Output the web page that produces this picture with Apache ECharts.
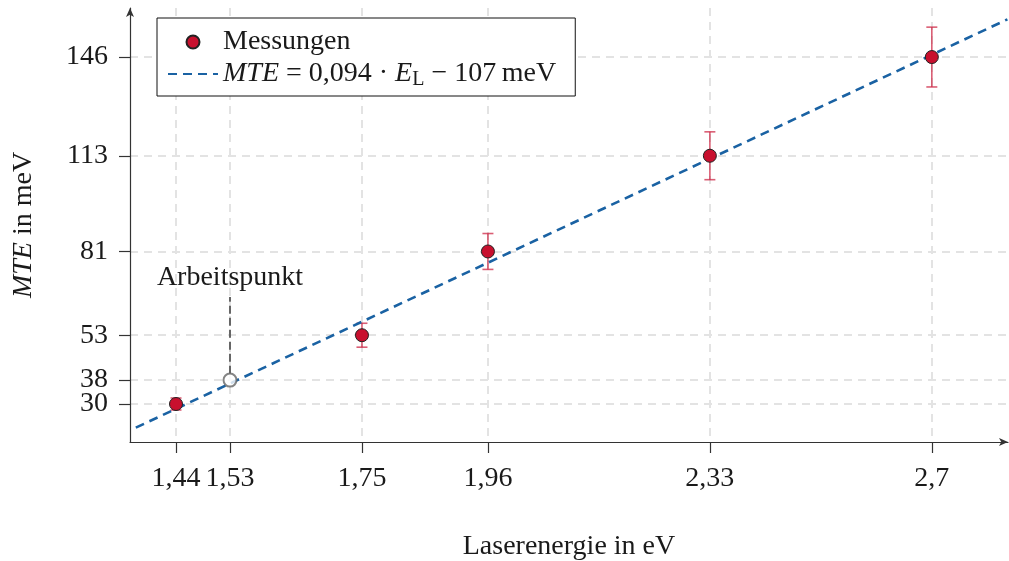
<!DOCTYPE html>
<html>
<head>
<meta charset="utf-8">
<script src="https://cdn.jsdelivr.net/npm/echarts@6/dist/echarts.min.js"></script>
<style>html,body{margin:0;padding:0;background:#fff}#c{width:1009px;height:561px}</style>
</head>
<body>
<div id="c"></div>
<script>
// --- data ---
const energies = [1.44, 1.75, 1.96, 2.33, 2.7];      // eV
const mte = [30, 53, 81, 113, 146];                  // meV
const mteErr = [2, 4, 6, 8, 10];                     // meV
const fitLine = [[1.373, 22.1], [2.826, 158.6]];     // endpoints of fit line
const workPoint = [1.53, 38];
const workMarker = [[1.53, 40.1], [1.53, 65.8]];
const xTicks = [1.44, 1.53, 1.75, 1.96, 2.33, 2.7];
const yTicks = [30, 38, 53, 81, 113, 146];
const yLabelsA = [30, 53, 81, 113, 146];   // labels on main axis
const yLabelsB = [38];                     // label on overlay axis (avoids overlap hiding)

const FONT = 'Liberation Serif';
const TXT = '#1a1a1a';
const AX = '#333';
const GRID = '#e3e3e3';
const RED = '#c8102e';
const ERR = 'rgba(205,40,70,0.75)';
const BLUE = '#1a62a3';
const Y_MIN = 17.3, Y_MAX = 162.4;

const chart = echarts.init(document.getElementById('c'), null, {renderer: 'canvas'});
const fmt = v => String(v).replace('.', ',');
const yLabelStyle = {fontFamily: FONT, fontSize: 28, color: TXT, margin: 22, hideOverlap: false, showMinLabel: true, showMaxLabel: true};

chart.setOption({
  animation: false,
  backgroundColor: '#fff',
  textStyle: {fontFamily: FONT},
  grid: {left: 130, right: 1, top: 8, bottom: 119, containLabel: false, outerBoundsMode: 'none'},
  xAxis: {
    type: 'value', min: 1.3633, max: 2.827,
    name: 'Laserenergie in eV', nameLocation: 'middle', nameGap: 91,
    nameTextStyle: {fontFamily: FONT, fontSize: 28, color: TXT},
    axisLine: {lineStyle: {color: AX, width: 1.2}, symbol: ['none', 'arrow'], symbolSize: [6, 9]},
    axisTick: {show: true, inside: false, length: 11, lineStyle: {color: AX, width: 1.2}, customValues: xTicks},
    axisLabel: {customValues: xTicks, formatter: fmt, fontFamily: FONT, fontSize: 28, color: TXT, margin: 23,
      hideOverlap: false, showMinLabel: true, showMaxLabel: true},
    splitLine: {show: true, lineStyle: {color: GRID, width: 2, type: [8, 6]}}
  },
  yAxis: [{
    type: 'value', min: Y_MIN, max: Y_MAX, position: 'left',
    name: '{it|MTE} in meV', nameLocation: 'middle', nameGap: 92, nameRotate: 90,
    nameTextStyle: {fontFamily: FONT, fontSize: 28, color: TXT, rich: {it: {fontFamily: FONT, fontSize: 28, fontStyle: 'italic', color: TXT}}},
    axisLine: {lineStyle: {color: AX, width: 1.2}, symbol: ['none', 'arrow'], symbolSize: [6, 9]},
    axisTick: {show: true, inside: false, length: 11, lineStyle: {color: AX, width: 1.2}, customValues: yTicks},
    axisLabel: Object.assign({customValues: yLabelsA}, yLabelStyle),
    splitLine: {show: true, lineStyle: {color: GRID, width: 2, type: [8, 6]}}
  }, {
    type: 'value', min: Y_MIN, max: Y_MAX, position: 'left', offset: 0,
    axisLine: {show: false}, axisTick: {show: false, customValues: yLabelsB},
    axisLabel: Object.assign({customValues: yLabelsB}, yLabelStyle),
    splitLine: {show: false}
  }],
  legend: {
    orient: 'vertical', left: 157, top: 18,
    padding: [10, 19, 6, 10], itemGap: 4,
    itemWidth: 50, itemHeight: 13,
    backgroundColor: '#fff', borderColor: '#111', borderWidth: 1, borderRadius: 0,
    data: [{name: 'Messungen', icon: 'circle'}, {name: 'fit', itemStyle: {opacity: 0, color: 'rgba(0,0,0,0)', borderWidth: 0}}],
    formatter: function (name) {
      if (name === 'Messungen') return 'Messungen';
      return '{it|MTE} = 0,094 · {it|E}{sub|L} − 107\u2009meV';
    },
    textStyle: {
      fontFamily: FONT, fontSize: 28, color: TXT,
      rich: {
        it: {fontFamily: FONT, fontSize: 28, fontStyle: 'italic', color: TXT},
        sub: {fontFamily: FONT, fontSize: 20, color: TXT, padding: [12, 0, 0, 0]}
      }
    }
  },
  series: [
    {
      name: 'err', type: 'custom', z: 3,
      data: energies.map((e, i) => [e, mte[i] - mteErr[i], mte[i] + mteErr[i]]),
      encode: {x: 0, y: [1, 2]},
      renderItem: function (params, api) {
        const x = api.value(0);
        const lo = api.coord([x, api.value(1)]);
        const hi = api.coord([x, api.value(2)]);
        const w = 5.5;
        const st = {stroke: ERR, lineWidth: 1.6};
        return {type: 'group', children: [
          {type: 'line', shape: {x1: lo[0], y1: lo[1], x2: hi[0], y2: hi[1]}, style: st},
          {type: 'line', shape: {x1: lo[0] - w, y1: lo[1], x2: lo[0] + w, y2: lo[1]}, style: st},
          {type: 'line', shape: {x1: hi[0] - w, y1: hi[1], x2: hi[0] + w, y2: hi[1]}, style: st}
        ]};
      }
    },
    {
      name: 'fit', type: 'line', z: 4, data: fitLine, symbol: 'none',
      lineStyle: {color: BLUE, width: 2.6, type: [9, 6]},
      itemStyle: {color: BLUE}
    },
    {
      name: 'marker', type: 'line', z: 4, data: workMarker, symbol: 'none',
      lineStyle: {color: '#666', width: 2, type: [8, 4]},
      label: {show: false},
      markPoint: {
        symbol: 'circle', symbolSize: 1, itemStyle: {color: 'rgba(0,0,0,0)'},
        label: {show: true, position: 'top', distance: 5, formatter: 'Arbeitspunkt', fontFamily: FONT, fontSize: 28, color: TXT},
        data: [{coord: workMarker[1]}]
      }
    },
    {
      name: 'work', type: 'scatter', z: 5, data: [workPoint], symbol: 'circle', symbolSize: 13,
      itemStyle: {color: '#fff', borderColor: '#666', borderWidth: 2}
    },
    {
      name: 'Messungen', type: 'scatter', z: 6,
      data: energies.map((e, i) => [e, mte[i]]),
      symbol: 'circle', symbolSize: 13,
      itemStyle: {color: RED, borderColor: '#222', borderWidth: 1, opacity: 1}
    }
  ]
});
</script>
</body>
</html>
